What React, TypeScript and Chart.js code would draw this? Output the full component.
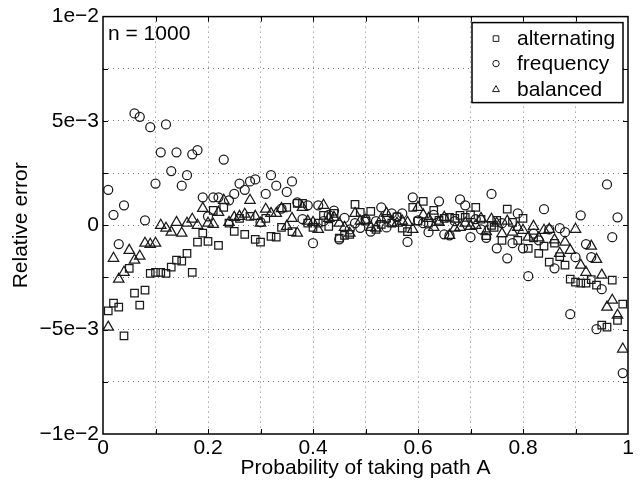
import React, { useEffect, useRef } from 'react';
import { Chart, registerables } from 'chart.js';

Chart.register(...registerables);

// ---- data (relative error values in units of 1e-3) ----
const SERIES_LABELS = ['alternating', 'frequency', 'balanced'];
const X_TICK_LABELS = ['0', '0.2', '0.4', '0.6', '0.8', '1'];
const Y_TICK_LABELS = ['\u22121e\u22122', '\u22125e\u22123', '0', '5e\u22123', '1e\u22122'];
const X_TITLE = 'Probability of taking path A';
const Y_TITLE = 'Relative error';
const ANNOTATION = 'n = 1000';

const alternatingPoints: [number, number][] = [
  [0.01, -4.1], [0.02, -3.73], [0.03, -3.92], [0.04, -5.3], [0.05, -2.06], [0.06, -3.25], [0.07, -3.83],
  [0.08, -3.11], [0.09, -2.3], [0.10, -2.25], [0.11, -2.25], [0.12, -2.3], [0.13, -2.0], [0.14, -1.67],
  [0.15, -1.72], [0.16, -1.34], [0.17, -2.25], [0.18, -0.81], [0.19, -0.38], [0.20, -0.77], [0.21, 0.72],
  [0.22, -0.96], [0.23, 0.86], [0.24, 0.1], [0.25, -0.29], [0.26, 0.33], [0.27, -0.43], [0.28, 0.43],
  [0.29, -0.67], [0.30, -0.81], [0.31, 0.33], [0.32, -0.53], [0.33, -0.57], [0.34, -0.1], [0.35, 0.86],
  [0.36, -0.3], [0.37, 1.05], [0.38, 1.05], [0.39, 0.1], [0.40, -0.1], [0.41, 0.1], [0.42, 0.48],
  [0.43, -0.05], [0.44, 0.57], [0.45, -0.62], [0.46, -0.48], [0.47, -0.43], [0.48, 1.0], [0.49, 0.62],
  [0.50, 0.2], [0.51, 0.67], [0.52, -0.2], [0.53, 0.05], [0.54, 0.33], [0.55, 0.1], [0.56, 0.4],
  [0.57, -0.14], [0.58, -0.3], [0.59, 0.86], [0.60, 0.2], [0.61, 1.15], [0.62, 0.1], [0.63, 0.72],
  [0.64, 0.24], [0.65, 0.33], [0.66, 0.38], [0.67, 0.33], [0.68, 0.48], [0.69, 0.38], [0.70, 0.5],
  [0.71, 0.86], [0.72, 0.29], [0.73, -0.5], [0.74, 0.0], [0.745, -0.1], [0.75, 0.24], [0.76, -0.72],
  [0.77, 0.77], [0.78, 0.14], [0.79, -0.72], [0.80, 0.33], [0.81, -1.1], [0.82, -0.6], [0.83, -1.34],
  [0.84, -1.0], [0.85, -1.77], [0.86, -0.86], [0.87, -1.5], [0.88, -1.91], [0.89, -2.58], [0.90, -2.72],
  [0.91, -2.77], [0.92, -2.77], [0.93, -2.6], [0.94, -2.87], [0.95, -4.78], [0.96, -4.88], [0.97, -2.63],
  [0.98, -4.55], [0.99, -3.78],
];

const frequencyPoints: [number, number][] = [
  [0.01, 1.7], [0.02, 0.5], [0.03, -0.9], [0.04, 0.96], [0.06, 5.36], [0.07, 5.2], [0.08, 0.24],
  [0.09, 4.7], [0.10, 2.0], [0.11, 3.5], [0.12, 4.83], [0.13, 2.6], [0.14, 3.5], [0.15, 1.9],
  [0.16, 2.4], [0.17, 3.4], [0.18, 3.6], [0.19, 1.34], [0.20, 0.43], [0.21, 1.34], [0.22, 1.34],
  [0.23, 3.15], [0.24, 1.2], [0.25, 1.5], [0.26, 2.0], [0.27, 1.7], [0.28, 2.1], [0.29, 2.2],
  [0.30, 0.15], [0.31, 1.5], [0.32, 2.4], [0.33, 1.9], [0.34, 0.8], [0.35, 1.6], [0.36, 2.1],
  [0.37, 1.1], [0.38, 0.3], [0.39, 0.96], [0.40, -0.86], [0.41, 0.96], [0.42, 0.2], [0.43, 0.5],
  [0.44, 0.7], [0.45, -0.67], [0.46, 0.35], [0.47, -0.2], [0.48, 0.1], [0.49, -0.12], [0.50, 0.3],
  [0.51, -0.3], [0.52, 0.2], [0.53, 0.86], [0.54, -0.1], [0.55, 0.57], [0.56, 0.4], [0.57, 0.57],
  [0.58, -0.8], [0.59, 1.34], [0.60, 0.24], [0.61, 0.1], [0.62, -0.33], [0.63, 0.5], [0.64, 1.15],
  [0.65, -0.43], [0.66, -0.48], [0.67, 0.2], [0.68, 1.24], [0.69, 0.96], [0.70, -0.57], [0.71, 0.3],
  [0.72, -0.2], [0.73, -0.6], [0.74, 1.5], [0.75, -1.1], [0.76, 0.1], [0.77, -1.58], [0.78, -0.86],
  [0.79, 0.57], [0.80, -1.1], [0.81, -2.44], [0.82, -0.4], [0.83, -0.72], [0.84, 0.77], [0.85, -0.2],
  [0.86, -2.06], [0.87, -0.14], [0.88, -0.33], [0.89, -4.26], [0.90, -1.53], [0.91, 0.48], [0.92, -0.9],
  [0.93, -1.53], [0.94, -4.98], [0.95, -3.06], [0.96, 1.96], [0.97, -0.57], [0.98, 0.38], [0.99, -7.08],
];

const balancedPoints: [number, number][] = [
  [0.01, -4.88], [0.02, -1.58], [0.03, -2.58], [0.04, -2.25], [0.05, -1.2], [0.06, -1.67], [0.07, -1.48],
  [0.08, -0.86], [0.09, -0.91], [0.10, -0.86], [0.11, 0], [0.12, -0.14], [0.13, -0.33], [0.14, 0.14],
  [0.15, -0.38], [0.16, 0.1], [0.17, 0.29], [0.18, 0], [0.19, 0.81], [0.20, 0.1], [0.21, 0.05],
  [0.22, 0.62], [0.23, 1.2], [0.24, 0.14], [0.25, 0.38], [0.26, 0.43], [0.27, 0.53], [0.28, 1.2],
  [0.29, 0.43], [0.30, 0.1], [0.31, 0.77], [0.32, 0.57], [0.33, 0.57], [0.34, 0.8], [0.35, -0.05],
  [0.36, 0.33], [0.37, -0.38], [0.38, 0.86], [0.39, 0.2], [0.40, 0.14], [0.41, -0.2], [0.42, 0.96],
  [0.43, 0.33], [0.44, 0.38], [0.45, 0.1], [0.46, -0.1], [0.47, -0.38], [0.48, 0.57], [0.49, 0.2],
  [0.50, 0.24], [0.51, -0.1], [0.52, -0.14], [0.53, 0.3], [0.54, 0.57], [0.55, 0.1], [0.56, 0.1],
  [0.57, 0.2], [0.58, 0.14], [0.59, -0.2], [0.60, 0.86], [0.61, 0.5], [0.62, 0.33], [0.63, -0.1],
  [0.64, 0.14], [0.65, 0.38], [0.66, -0.48], [0.67, -0.14], [0.68, -0.1], [0.69, 0.1], [0.70, -0.05],
  [0.71, 0], [0.72, 0.33], [0.73, -0.3], [0.74, 0.29], [0.75, 0.1], [0.76, -0.4], [0.77, 0.2],
  [0.78, -0.33], [0.79, -0.1], [0.80, -0.24], [0.81, -0.57], [0.82, -0.05], [0.83, -0.6], [0.84, -0.24],
  [0.85, -0.19], [0.86, -0.7], [0.87, -1.34], [0.88, -0.81], [0.89, -1.2], [0.90, -0.19], [0.91, -1.91],
  [0.92, -2.25], [0.93, -1.0], [0.94, -1.63], [0.95, -2.39], [0.96, -3.92], [0.97, -3.59], [0.98, -4.31],
  [0.99, -5.93],
];

const Y_UNIT = 1e-3;
const FONT = '"Liberation Sans", Arial, Helvetica, sans-serif';
const INK = '#1a1a1a';

const toXY = (pts: [number, number][]) => pts.map(([x, y]) => ({ x, y: y * Y_UNIT }));

function drawMarker(ctx: CanvasRenderingContext2D, style: string, x: number, y: number, s: number) {
  ctx.beginPath();
  if (style === 'rect') {
    ctx.rect(x - s, y - s, 2 * s, 2 * s);
  } else if (style === 'circle') {
    ctx.arc(x, y, s, 0, Math.PI * 2);
  } else {
    const r = s * 1.25;
    ctx.moveTo(x, y - r);
    ctx.lineTo(x + r * Math.sin((2 * Math.PI) / 3), y + r / 2);
    ctx.lineTo(x - r * Math.sin((2 * Math.PI) / 3), y + r / 2);
    ctx.closePath();
  }
  ctx.stroke();
}

const framePlugin = {
  id: 'matlabFrame',
  afterDraw(chart: any) {
    const { ctx, chartArea } = chart;
    const { left, right, top, bottom } = chartArea;
    const xs = chart.scales.x;
    const ys = chart.scales.y;
    ctx.save();
    ctx.strokeStyle = '#000';
    ctx.lineWidth = 1;
    const tl = 5;
    ctx.beginPath();
    xs.ticks.forEach((t: any) => {
      const px = Math.round(xs.getPixelForValue(t.value)) + 0.5;
      if (px <= left + 2 || px >= right - 2) return;
      ctx.moveTo(px, bottom);
      ctx.lineTo(px, bottom - tl);
      ctx.moveTo(px, top);
      ctx.lineTo(px, top + tl);
    });
    ys.ticks.forEach((t: any) => {
      const py = Math.round(ys.getPixelForValue(t.value)) + 0.5;
      if (py <= top + 2 || py >= bottom - 2) return;
      ctx.moveTo(left, py);
      ctx.lineTo(left + tl, py);
      ctx.moveTo(right, py);
      ctx.lineTo(right - tl, py);
    });
    ctx.stroke();

    // axes box
    ctx.lineWidth = 1.5;
    ctx.strokeRect(left, top, right - left, bottom - top);

    // annotation
    ctx.fillStyle = '#000';
    ctx.font = `21px ${FONT}`;
    ctx.textBaseline = 'middle';
    ctx.textAlign = 'left';
    ctx.fillText(ANNOTATION, left + 5, top + 18);

    // legend
    const bw = 151;
    const bh = 80;
    const bx = right - 5 - bw;
    const by = top + 6;
    ctx.fillStyle = '#fff';
    ctx.fillRect(bx, by, bw, bh);
    ctx.lineWidth = 1.5;
    ctx.strokeStyle = '#000';
    ctx.strokeRect(bx, by, bw, bh);
    const rows = [16, 41, 67];
    chart.data.datasets.forEach((ds: any, i: number) => {
      const yy = by + rows[i];
      ctx.strokeStyle = INK;
      ctx.lineWidth = 1;
      const s = ds.pointStyle === 'rect' ? 2.8 : 3.2;
      drawMarker(ctx, ds.pointStyle, bx + 24, yy, s);
      ctx.fillStyle = '#000';
      ctx.fillText(ds.label, bx + 45, yy + 1);
    });
    ctx.restore();
  },
};

export default function App() {
  const ref = useRef<HTMLCanvasElement | null>(null);

  useEffect(() => {
    if (!ref.current) return;
    Chart.defaults.font.family = FONT;
    const gridColor = (min: number, max: number) => (c: any) => {
      const v = c.tick ? c.tick.value : 0;
      if (v <= min + 1e-9 || v >= max - 1e-9) return 'rgba(0,0,0,0)';
      return '#7a7a7a';
    };
    const common = {
      borderColor: INK,
      backgroundColor: 'rgba(0,0,0,0)',
      borderWidth: 1.25,
      showLine: false,
    };
    const chart = new Chart(ref.current, {
      type: 'scatter',
      data: {
        datasets: [
          { ...common, label: SERIES_LABELS[0], data: toXY(alternatingPoints), pointStyle: 'rect', pointRadius: 5.3, pointHoverRadius: 5.3 },
          { ...common, label: SERIES_LABELS[1], data: toXY(frequencyPoints), pointStyle: 'circle', pointRadius: 4.5, pointHoverRadius: 4.5 },
          { ...common, label: SERIES_LABELS[2], data: toXY(balancedPoints), pointStyle: 'triangle', pointRadius: 6, pointHoverRadius: 6 },
        ],
      },
      options: {
        animation: false,
        responsive: false,
        maintainAspectRatio: false,
        events: [],
        layout: { padding: { left: 0, right: 14, top: 16, bottom: 0 } },
        plugins: { legend: { display: false }, tooltip: { enabled: false } },
        scales: {
          x: {
            type: 'linear',
            min: 0,
            max: 1,
            afterFit: (s: any) => { s.height = 50; },
            ticks: {
              stepSize: 0.1,
              autoSkip: false,
              maxRotation: 0,
              padding: 2,
              color: '#000',
              font: { size: 21, family: FONT },
              callback: (v: any) => {
                const k = Math.round(Number(v) * 10);
                return k % 2 === 0 ? X_TICK_LABELS[k / 2] : '';
              },
            },
            grid: { color: gridColor(0, 1), lineWidth: 1, drawTicks: false },
            border: { display: false, dash: [1, 4] },
            title: { display: true, text: X_TITLE, color: '#000', font: { size: 21, family: FONT }, padding: { top: 0, bottom: 3 } },
          },
          y: {
            type: 'linear',
            min: -0.01,
            max: 0.01,
            afterFit: (s: any) => { s.width = 103; },
            ticks: {
              stepSize: 0.0025,
              autoSkip: false,
              padding: 4,
              color: '#000',
              font: { size: 21, family: FONT },
              callback: (v: any) => {
                const k = Math.round(Number(v) / 0.0025);
                return k % 2 === 0 ? Y_TICK_LABELS[k / 2 + 2] : '';
              },
            },
            grid: { color: gridColor(-0.01, 0.01), lineWidth: 1, drawTicks: false },
            border: { display: false, dash: [1, 4] },
            title: { display: true, text: Y_TITLE, color: '#000', font: { size: 21, family: FONT }, padding: { top: 9, bottom: 0 } },
          },
        },
      },
      plugins: [framePlugin],
    } as any);
    return () => chart.destroy();
  }, []);

  return (
    <div style={{ position: 'absolute', left: 0, top: 0, width: 642, height: 484, background: '#fff' }}>
      <canvas ref={ref} width={642} height={484} style={{ display: 'block' }} />
    </div>
  );
}
